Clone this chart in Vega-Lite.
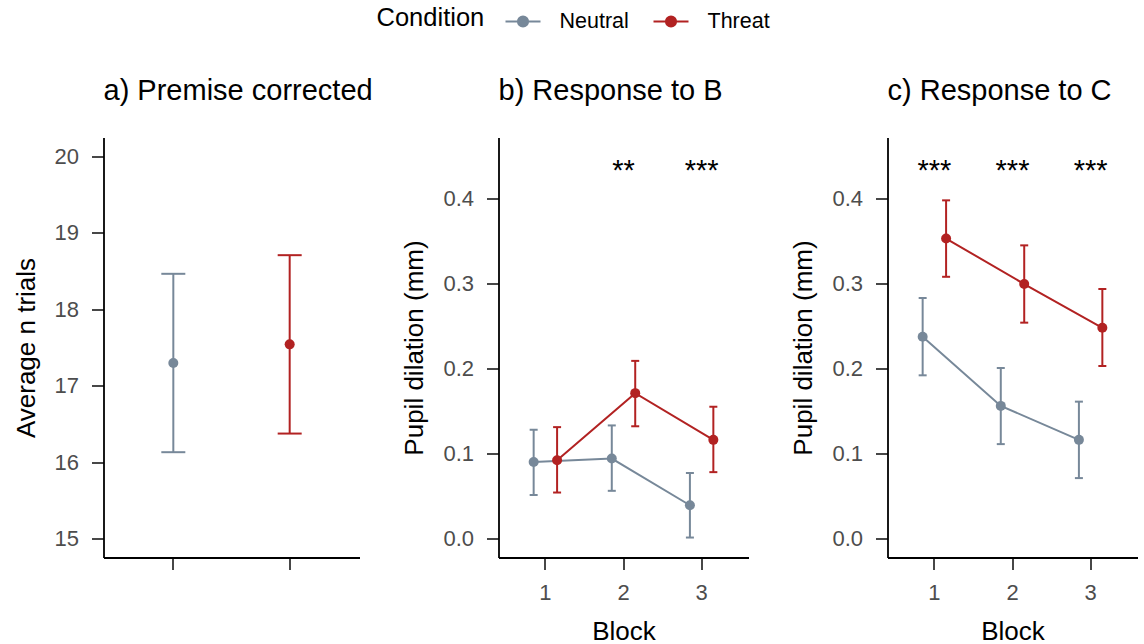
{
  "$schema": "https://vega.github.io/schema/vega-lite/v6.json",
  "background": "white",
  "padding": {"left": 12.5, "top": 2.5, "right": 2, "bottom": 0},
  "bounds": "flush",
  "spacing": 139,
  "datasets": {
    "panelA": [
      {"Condition": "Neutral", "mean": 17.296, "lo": 16.129, "hi": 18.465},
      {"Condition": "Threat", "mean": 17.541, "lo": 16.373, "hi": 18.709}
    ],
    "pupil": [
      {"panel": "b", "Block": 1, "Condition": "Neutral", "mean": 0.090, "lo": 0.051, "hi": 0.128},
      {"panel": "b", "Block": 2, "Condition": "Neutral", "mean": 0.094, "lo": 0.056, "hi": 0.133},
      {"panel": "b", "Block": 3, "Condition": "Neutral", "mean": 0.039, "lo": 0.001, "hi": 0.077},
      {"panel": "b", "Block": 1, "Condition": "Threat", "mean": 0.092, "lo": 0.054, "hi": 0.131},
      {"panel": "b", "Block": 2, "Condition": "Threat", "mean": 0.171, "lo": 0.132, "hi": 0.209},
      {"panel": "b", "Block": 3, "Condition": "Threat", "mean": 0.116, "lo": 0.078, "hi": 0.155},
      {"panel": "c", "Block": 1, "Condition": "Neutral", "mean": 0.2375, "lo": 0.192, "hi": 0.283},
      {"panel": "c", "Block": 2, "Condition": "Neutral", "mean": 0.156, "lo": 0.111, "hi": 0.2006},
      {"panel": "c", "Block": 3, "Condition": "Neutral", "mean": 0.116, "lo": 0.071, "hi": 0.161},
      {"panel": "c", "Block": 1, "Condition": "Threat", "mean": 0.353, "lo": 0.308, "hi": 0.398},
      {"panel": "c", "Block": 2, "Condition": "Threat", "mean": 0.2995, "lo": 0.254, "hi": 0.345},
      {"panel": "c", "Block": 3, "Condition": "Threat", "mean": 0.248, "lo": 0.203, "hi": 0.2936}
    ],
    "stars": [
      {"panel": "b", "Block": 2, "label": "**"},
      {"panel": "b", "Block": 3, "label": "***"},
      {"panel": "c", "Block": 1, "label": "***"},
      {"panel": "c", "Block": 2, "label": "***"},
      {"panel": "c", "Block": 3, "label": "***"}
    ]
  },
  "config": {
    "view": {"stroke": null},
    "font": "Liberation Sans",
    "axis": {
      "domainColor": "black", "domainWidth": 1.8,
      "tickColor": "#333333", "tickWidth": 1.8, "tickSize": 12,
      "labelColor": "#4D4D4D", "labelFontSize": 22, "labelPadding": 13, "labelFont": "Liberation Sans",
      "titleColor": "black", "titleFontSize": 26, "titleFontWeight": "normal", "titlePadding": 15, "titleFont": "Liberation Sans",
      "grid": false
    },
    "title": {"fontSize": 29, "fontWeight": "normal", "anchor": "start", "frame": "group", "color": "black", "offset": 32, "font": "Liberation Sans"}
  },
  "resolve": {"scale": {"color": "shared", "x": "independent", "y": "independent"}},
  "hconcat": [
    {
      "width": 256, "height": 420,
      "title": "a) Premise corrected",
      "data": {"name": "panelA"},
      "encoding": {
        "x": {"field": "Condition", "type": "nominal", "scale": {"type": "band", "paddingInner": 0, "paddingOuter": 0.1}, "axis": {"labels": false, "title": null}},
        "color": {
          "field": "Condition", "type": "nominal",
          "scale": {"domain": ["Neutral", "Threat"], "range": ["#778899", "#B22222"]},
          "legend": {
            "orient": "none", "legendX": 273, "legendY": -134.5, "direction": "horizontal",
            "title": "Condition", "titleOrient": "left", "titleFontSize": 25.5, "titleFontWeight": "normal", "titleColor": "black", "titlePadding": 20, "titleFont": "Liberation Sans",
            "labelFontSize": 21.5, "labelColor": "black", "labelFont": "Liberation Sans", "labelOffset": 18, "columnPadding": 20,
            "symbolType": "M-1,0L1,0M0.29,0A0.29,0.29,0,1,1,-0.29,0A0.29,0.29,0,1,1,0.29,0Z",
            "symbolSize": 1225, "symbolStrokeWidth": 2, "symbolOpacity": 1,
            "encode": {"symbols": {"update": {"fill": {"scale": "color", "field": "value"}, "stroke": {"scale": "color", "field": "value"}}}}
          }
        }
      },
      "layer": [
        {"mark": {"type": "rule", "strokeWidth": 2},
         "encoding": {
           "y": {"field": "lo", "type": "quantitative", "scale": {"domain": [14.75, 20.25], "nice": false, "zero": false}, "axis": {"values": [15, 16, 17, 18, 19, 20], "format": "d", "title": "Average n trials"}},
           "y2": {"field": "hi"}}},
        {"mark": {"type": "tick", "size": 24, "thickness": 2, "opacity": 1},
         "encoding": {"y": {"field": "lo", "type": "quantitative", "axis": {"title": "Average n trials"}}}},
        {"mark": {"type": "tick", "size": 24, "thickness": 2, "opacity": 1},
         "encoding": {"y": {"field": "hi", "type": "quantitative", "axis": {"title": "Average n trials"}}}},
        {"mark": {"type": "point", "filled": true, "size": 100, "opacity": 1},
         "encoding": {"y": {"field": "mean", "type": "quantitative", "axis": {"title": "Average n trials"}}}}
      ]
    },
    {
      "width": 250, "height": 420,
      "title": "b) Response to B",
      "encoding": {
        "x": {"field": "Block", "type": "ordinal", "scale": {"type": "band", "domain": [1, 2, 3], "paddingInner": 0, "paddingOuter": 0.1}, "axis": {"labelAngle": 0, "title": "Block"}}
      },
      "layer": [
        {"data": {"name": "pupil"}, "transform": [{"filter": "datum.panel === 'b'"}],
         "mark": {"type": "rule", "strokeWidth": 2},
         "encoding": {
           "xOffset": {"field": "Condition", "type": "nominal", "scale": {"paddingInner": 0, "paddingOuter": 0.667}},
           "color": {"field": "Condition", "type": "nominal"},
           "y": {"field": "lo", "type": "quantitative", "scale": {"domain": [-0.0225, 0.472], "nice": false, "zero": false}, "axis": {"values": [0, 0.1, 0.2, 0.3, 0.4], "format": ".1f", "title": "Pupil dilation (mm)"}},
           "y2": {"field": "hi"}}},
        {"data": {"name": "pupil"}, "transform": [{"filter": "datum.panel === 'b'"}],
         "mark": {"type": "tick", "size": 8, "thickness": 2, "opacity": 1},
         "encoding": {
           "xOffset": {"field": "Condition", "type": "nominal"},
           "color": {"field": "Condition", "type": "nominal"},
           "y": {"field": "lo", "type": "quantitative", "axis": {"title": "Pupil dilation (mm)"}}}},
        {"data": {"name": "pupil"}, "transform": [{"filter": "datum.panel === 'b'"}],
         "mark": {"type": "tick", "size": 8, "thickness": 2, "opacity": 1},
         "encoding": {
           "xOffset": {"field": "Condition", "type": "nominal"},
           "color": {"field": "Condition", "type": "nominal"},
           "y": {"field": "hi", "type": "quantitative", "axis": {"title": "Pupil dilation (mm)"}}}},
        {"data": {"name": "pupil"}, "transform": [{"filter": "datum.panel === 'b'"}],
         "mark": {"type": "line", "strokeWidth": 2},
         "encoding": {
           "xOffset": {"field": "Condition", "type": "nominal"},
           "color": {"field": "Condition", "type": "nominal"},
           "y": {"field": "mean", "type": "quantitative", "axis": {"title": "Pupil dilation (mm)"}}}},
        {"data": {"name": "pupil"}, "transform": [{"filter": "datum.panel === 'b'"}],
         "mark": {"type": "point", "filled": true, "size": 100, "opacity": 1},
         "encoding": {
           "xOffset": {"field": "Condition", "type": "nominal"},
           "color": {"field": "Condition", "type": "nominal"},
           "y": {"field": "mean", "type": "quantitative", "axis": {"title": "Pupil dilation (mm)"}}}},
        {"data": {"name": "stars"}, "transform": [{"filter": "datum.panel === 'b'"}],
         "mark": {"type": "text", "fontSize": 29, "color": "black", "baseline": "alphabetic", "font": "Liberation Sans"},
         "encoding": {
           "y": {"datum": 0.422, "type": "quantitative", "axis": {"title": "Pupil dilation (mm)"}},
           "text": {"field": "label"}}}
      ]
    },
    {
      "width": 250, "height": 420,
      "title": "c) Response to C",
      "encoding": {
        "x": {"field": "Block", "type": "ordinal", "scale": {"type": "band", "domain": [1, 2, 3], "paddingInner": 0, "paddingOuter": 0.1}, "axis": {"labelAngle": 0, "title": "Block"}}
      },
      "layer": [
        {"data": {"name": "pupil"}, "transform": [{"filter": "datum.panel === 'c'"}],
         "mark": {"type": "rule", "strokeWidth": 2},
         "encoding": {
           "xOffset": {"field": "Condition", "type": "nominal", "scale": {"paddingInner": 0, "paddingOuter": 0.667}},
           "color": {"field": "Condition", "type": "nominal"},
           "y": {"field": "lo", "type": "quantitative", "scale": {"domain": [-0.0225, 0.472], "nice": false, "zero": false}, "axis": {"values": [0, 0.1, 0.2, 0.3, 0.4], "format": ".1f", "title": "Pupil dilation (mm)"}},
           "y2": {"field": "hi"}}},
        {"data": {"name": "pupil"}, "transform": [{"filter": "datum.panel === 'c'"}],
         "mark": {"type": "tick", "size": 8, "thickness": 2, "opacity": 1},
         "encoding": {
           "xOffset": {"field": "Condition", "type": "nominal"},
           "color": {"field": "Condition", "type": "nominal"},
           "y": {"field": "lo", "type": "quantitative", "axis": {"title": "Pupil dilation (mm)"}}}},
        {"data": {"name": "pupil"}, "transform": [{"filter": "datum.panel === 'c'"}],
         "mark": {"type": "tick", "size": 8, "thickness": 2, "opacity": 1},
         "encoding": {
           "xOffset": {"field": "Condition", "type": "nominal"},
           "color": {"field": "Condition", "type": "nominal"},
           "y": {"field": "hi", "type": "quantitative", "axis": {"title": "Pupil dilation (mm)"}}}},
        {"data": {"name": "pupil"}, "transform": [{"filter": "datum.panel === 'c'"}],
         "mark": {"type": "line", "strokeWidth": 2},
         "encoding": {
           "xOffset": {"field": "Condition", "type": "nominal"},
           "color": {"field": "Condition", "type": "nominal"},
           "y": {"field": "mean", "type": "quantitative", "axis": {"title": "Pupil dilation (mm)"}}}},
        {"data": {"name": "pupil"}, "transform": [{"filter": "datum.panel === 'c'"}],
         "mark": {"type": "point", "filled": true, "size": 100, "opacity": 1},
         "encoding": {
           "xOffset": {"field": "Condition", "type": "nominal"},
           "color": {"field": "Condition", "type": "nominal"},
           "y": {"field": "mean", "type": "quantitative", "axis": {"title": "Pupil dilation (mm)"}}}},
        {"data": {"name": "stars"}, "transform": [{"filter": "datum.panel === 'c'"}],
         "mark": {"type": "text", "fontSize": 29, "color": "black", "baseline": "alphabetic", "font": "Liberation Sans"},
         "encoding": {
           "y": {"datum": 0.422, "type": "quantitative", "axis": {"title": "Pupil dilation (mm)"}},
           "text": {"field": "label"}}}
      ]
    }
  ]
}
